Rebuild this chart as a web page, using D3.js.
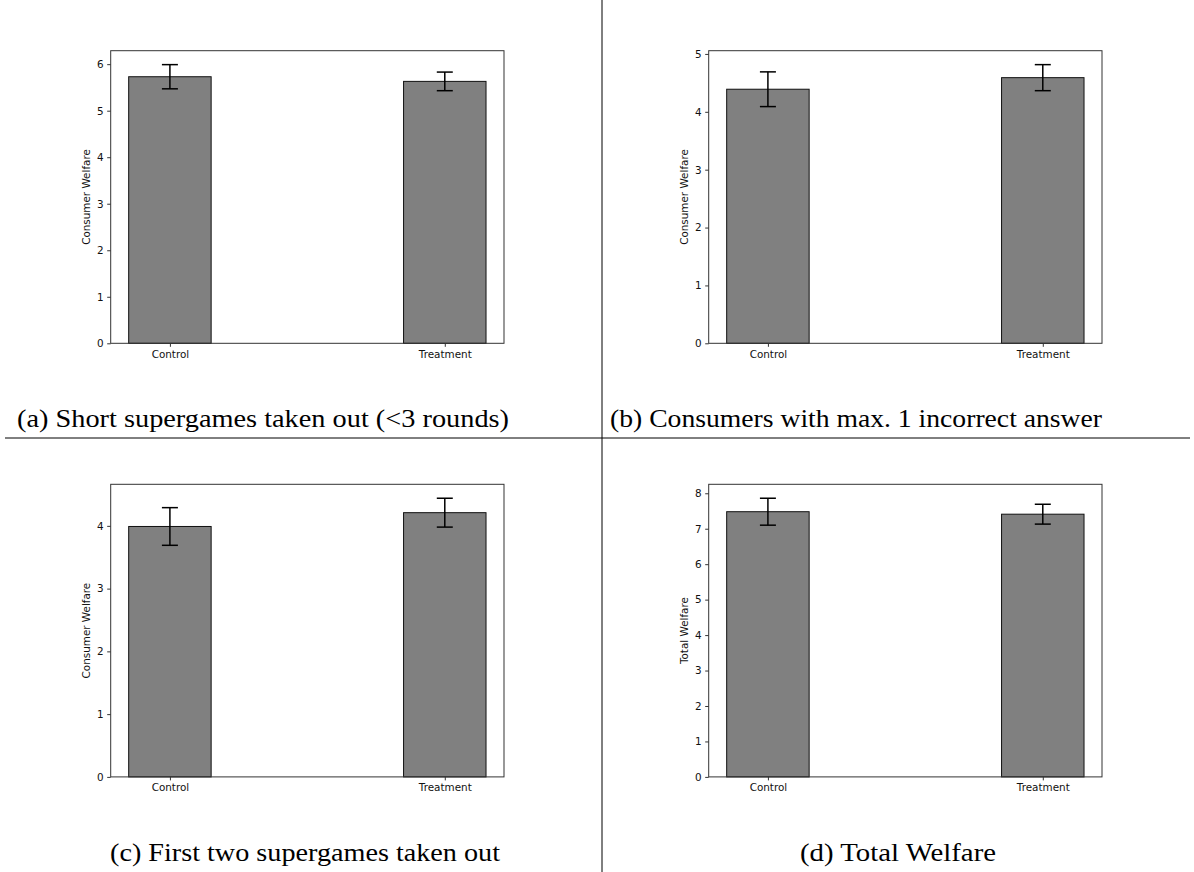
<!DOCTYPE html>
<html>
<head>
<meta charset="utf-8">
<script src="https://cdn.jsdelivr.net/npm/d3@7"></script>
<style>
  body { margin: 0; background: #fff; }
  svg { display: block; }
</style>
</head>
<body>
<svg width="1194" height="872"></svg>
<script>
const groups = ["Control", "Treatment"];

// means and standard errors
const meansA = [5.73, 5.63];
const errA = [0.26, 0.20];
const meansB = [4.39, 4.59];
const errB = [0.30, 0.225];
const meansC = [3.99, 4.21];
const errC = [0.30, 0.23];
const meansD = [7.48, 7.41];
const errD = [0.38, 0.28];

const ticksA = [0, 1, 2, 3, 4, 5, 6];
const ticksB = [0, 1, 2, 3, 4, 5];
const ticksC = [0, 1, 2, 3, 4];
const ticksD = [0, 1, 2, 3, 4, 5, 6, 7, 8];

const yLabels = ["Consumer Welfare", "Consumer Welfare", "Consumer Welfare", "Total Welfare"];
const captions = [
    "(a) Short supergames taken out (<3 rounds)",
    "(b) Consumers with max. 1 incorrect answer",
    "(c) First two supergames taken out",
    "(d) Total Welfare"
];

// layout of the four axes boxes
let axW = 393.3,
    axH = 292.6,
    colLeft = [110.7, 708.7],
    rowTop = [50.7, 484.3];

const svg = d3.select("svg");
svg.append("rect").attr("width", 1194).attr("height", 872).attr("fill", "#fff");

const panels = [
    {means: meansA, err: errA, ticks: ticksA, col: 0, row: 0},
    {means: meansB, err: errB, ticks: ticksB, col: 1, row: 0},
    {means: meansC, err: errC, ticks: ticksC, col: 0, row: 1},
    {means: meansD, err: errD, ticks: ticksD, col: 1, row: 1}
];

panels.forEach((p, i) => {
    const g = svg.append("g")
        .attr("transform", `translate(${colLeft[p.col]}, ${rowTop[p.row]})`);

    const data = groups.map((name, j) => ({name: name, mean: p.means[j], err: p.err[j]}));

    const x = d3.scalePoint()
        .domain(groups)
        .range([0, axW])
        .padding(0.2154);

    const yMax = d3.max(data, d => d.mean + d.err) * 1.05;
    const y = d3.scaleLinear()
        .domain([0, yMax])
        .range([axH, 0]);

    const barW = x.step() * 0.3;

    // bars
    g.selectAll("rect.bar")
        .data(data)
        .enter()
        .append("rect")
        .attr("class", "bar")
        .attr("x", d => x(d.name) - barW / 2)
        .attr("y", d => y(d.mean))
        .attr("width", barW)
        .attr("height", d => axH - y(d.mean))
        .attr("fill", "#808080")
        .attr("stroke", "#111")
        .attr("stroke-width", 1);

    // error bars
    const eb = g.selectAll("g.err")
        .data(data)
        .enter()
        .append("g")
        .attr("class", "err")
        .attr("stroke", "#000")
        .attr("stroke-width", 1.5);

    eb.append("line")
        .attr("x1", d => x(d.name)).attr("x2", d => x(d.name))
        .attr("y1", d => y(d.mean + d.err)).attr("y2", d => y(d.mean - d.err));
    eb.append("line")
        .attr("x1", d => x(d.name) - 8).attr("x2", d => x(d.name) + 8)
        .attr("y1", d => y(d.mean + d.err)).attr("y2", d => y(d.mean + d.err));
    eb.append("line")
        .attr("x1", d => x(d.name) - 8).attr("x2", d => x(d.name) + 8)
        .attr("y1", d => y(d.mean - d.err)).attr("y2", d => y(d.mean - d.err));

    // frame
    g.append("rect")
        .attr("width", axW)
        .attr("height", axH)
        .attr("fill", "none")
        .attr("stroke", "#333")
        .attr("stroke-width", 1);

    const yAxis = g.append("g")
        .call(d3.axisLeft(y).tickValues(p.ticks).tickFormat(d3.format("d")).tickSize(3.5).tickPadding(3.5));
    const xAxis = g.append("g")
        .attr("transform", `translate(0, ${axH})`)
        .call(d3.axisBottom(x).tickSize(3.5).tickPadding(3.5));

    [yAxis, xAxis].forEach(a => {
        a.select(".domain").remove();
        a.selectAll("line").attr("stroke", "#333");
        a.selectAll("text")
            .attr("font-family", "DejaVu Sans")
            .attr("font-size", "10.4px")
            .attr("fill", "#111");
    });

    g.append("text")
        .attr("transform", "rotate(-90)")
        .attr("x", -axH / 2)
        .attr("y", -24.7)
        .attr("dy", "0.35em")
        .attr("text-anchor", "middle")
        .attr("font-family", "DejaVu Sans")
        .attr("font-size", "10.4px")
        .attr("fill", "#111")
        .text(yLabels[i]);
});

// separator lines between the subfigures
svg.append("line")
    .attr("x1", 602).attr("x2", 602)
    .attr("y1", 0).attr("y2", 872)
    .attr("stroke", "#000").attr("stroke-width", 1);
svg.append("line")
    .attr("x1", 5).attr("x2", 1190)
    .attr("y1", 438).attr("y2", 438)
    .attr("stroke", "#000").attr("stroke-width", 1);

// captions, stretched to the Computer Modern widths of the original
const capPos = [
    {x: 17, y: 427, anchor: "start", w: 492},
    {x: 610, y: 427, anchor: "start", w: 492},
    {x: 305, y: 861, anchor: "middle", w: 390},
    {x: 898, y: 861, anchor: "middle", w: 196}
];

svg.selectAll("text.cap")
    .data(captions)
    .enter()
    .append("text")
    .attr("class", "cap")
    .attr("x", (d, i) => capPos[i].x)
    .attr("y", (d, i) => capPos[i].y)
    .attr("text-anchor", (d, i) => capPos[i].anchor)
    .attr("textLength", (d, i) => capPos[i].w)
    .attr("lengthAdjust", "spacingAndGlyphs")
    .attr("font-family", "Liberation Serif")
    .attr("font-size", "25px")
    .attr("fill", "#000")
    .text(d => d);
</script>
</body>
</html>
